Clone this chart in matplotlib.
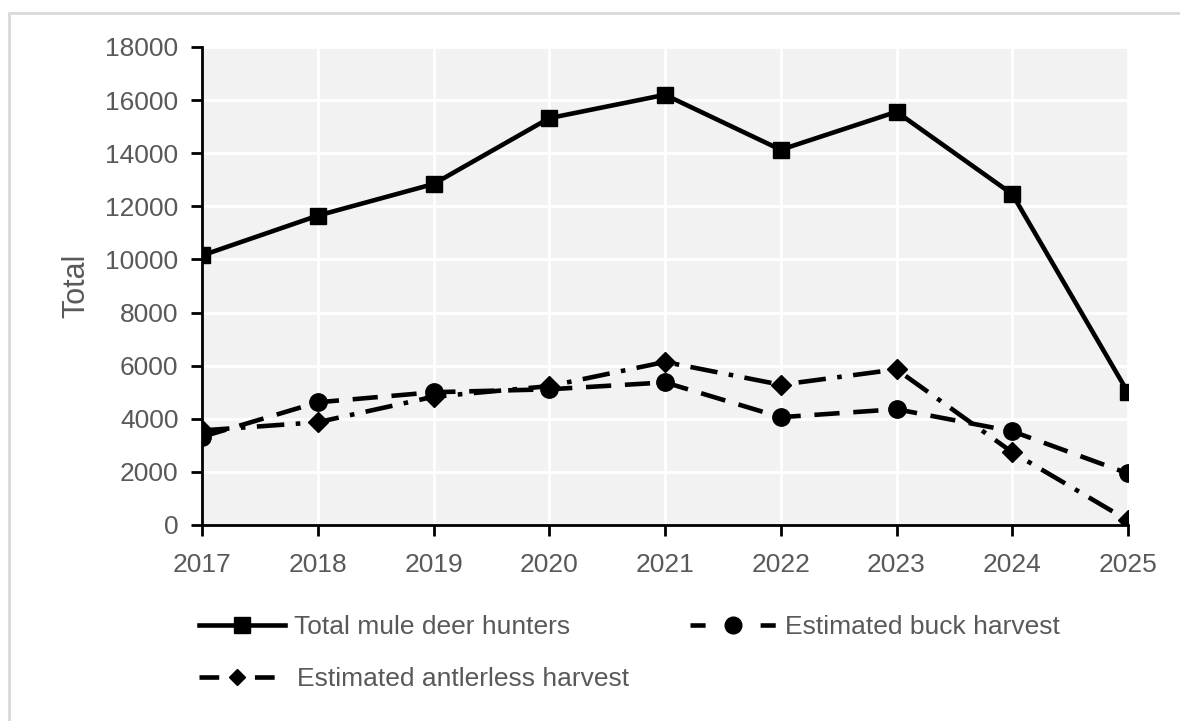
import matplotlib.pyplot as plt
from matplotlib.patches import Rectangle
from matplotlib.lines import Line2D

plt.rcParams['font.family'] = ['Liberation Sans', 'DejaVu Sans']

years = [2017, 2018, 2019, 2020, 2021, 2022, 2023, 2024, 2025]
total_hunters = [10150, 11650, 12840, 15320, 16200, 14130, 15560, 12460, 4990]
buck_harvest = [3320, 4620, 5000, 5110, 5370, 4060, 4360, 3530, 1940]
antlerless_harvest = [3560, 3870, 4830, 5230, 6140, 5280, 5860, 2740, 170]

gray = '#595959'
dash = (0, (5.5, 3))
dash_dot = (0, (6, 2.5, 1, 2.5))

fig = plt.figure(figsize=(11.8, 7.21), dpi=100)
ax = fig.add_axes([202 / 1180, 1 - 525 / 721, (1128 - 202) / 1180, (525 - 47) / 721])

# light frame around the chart
fig.patches.append(Rectangle((8.5 / 1180, -0.1), 1.2, (721 - 12.5) / 721 + 0.1,
                             transform=fig.transFigure, fill=False,
                             edgecolor='#d9d9d9', linewidth=2, zorder=0))

ax.set_facecolor('#f2f2f2')
ax.grid(True, color='white', linewidth=2)
ax.set_axisbelow(True)

ax.plot(years, total_hunters, color='black', linewidth=3.3, marker='s', markersize=12,
        label='Total mule deer hunters', zorder=3)
ax.plot(years, buck_harvest, color='black', linewidth=3.3, linestyle=dash,
        marker='o', markersize=12.5, label='Estimated buck harvest', zorder=3)
ax.plot(years, antlerless_harvest, color='black', linewidth=3.3, linestyle=dash_dot,
        marker='D', markersize=10, label='Estimated antlerless harvest', zorder=3)

ax.set_xlim(2017, 2025)
ax.set_ylim(0, 18000)
ax.set_yticks(range(0, 18001, 2000))
ax.set_xticks(years)

for side in ['top', 'right']:
    ax.spines[side].set_visible(False)
for side in ['left', 'bottom']:
    ax.spines[side].set_color('black')
    ax.spines[side].set_linewidth(2)

ax.tick_params(axis='both', colors=gray, labelsize=19, width=2, length=8,
               direction='out', color='black')
ax.tick_params(axis='x', pad=12)
ax.tick_params(axis='y', pad=9)
ax.set_ylabel('Total', fontsize=22, color=gray, labelpad=10)

# legend in two rows below the plot
h1 = Line2D([], [], color='black', linewidth=3.3, marker='s', markersize=12)
h2 = Line2D([], [], color='black', linewidth=3.3, linestyle=(0, (3.3, 12)),
            marker='o', markersize=12)
h3 = Line2D([], [], color='black', linewidth=3.3, linestyle=(0, (4.3, 7.8)),
            marker='D', markersize=8)
fig.legend([h1, h2], ['Total mule deer hunters', 'Estimated buck harvest'],
           loc='center left', bbox_to_anchor=(199 / 1180, 1 - 627 / 721),
           ncol=2, frameon=False, fontsize=19, labelcolor=gray,
           handlelength=3.25, handletextpad=0.35, columnspacing=4.55,
           borderaxespad=0, borderpad=0)
fig.legend([h3], ['Estimated antlerless harvest'],
           loc='center left', bbox_to_anchor=(199 / 1180, 1 - 679 / 721),
           frameon=False, fontsize=19, labelcolor=gray,
           handlelength=2.9, handletextpad=0.8, borderaxespad=0, borderpad=0)

fig.savefig('out.png', dpi=100)
